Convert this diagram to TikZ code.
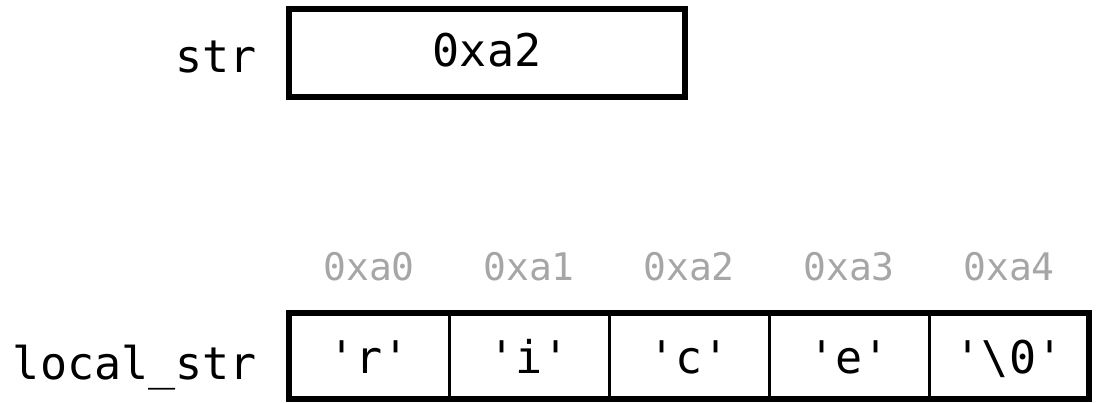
\documentclass[tikz,border=0pt]{standalone}
\usepackage{fontspec}
\setmonofont{DejaVu Sans Mono}
\usepackage{xcolor}
\usepackage{tikz}
\usetikzlibrary{positioning}
\definecolor{addrgray}{RGB}{166,166,166}

\begin{document}
\begin{tikzpicture}[x=1pt, y=1pt,
                        cell/.style={draw, line width=3pt, outer sep=0pt, minimum width=160pt, minimum height=86pt, inner sep=0pt, text height=34pt, text depth=0pt, font=\fontsize{45}{50}\ttfamily},
                        box/.style={draw, line width=6pt, outer sep=0pt, minimum width=396pt, minimum height=88pt, inner sep=0pt, text height=27pt, text depth=0pt, font=\fontsize{45}{50}\ttfamily},
                        varname/.style={anchor=base east, inner sep=0pt, font=\fontsize{45}{50}\ttfamily},
                        addr/.style={anchor=base, inner sep=0pt, text=addrgray, font=\fontsize{38}{44}\ttfamily}]
                        \useasboundingbox (0, 0) rectangle (1099, 402);
                        % pointer variable
                        \node[box] (ptr) at (487, 349) {0xa2};
                        \node[varname] (ptrname) at (257, 329) {str};
                        % array cells
                        \node[cell] (c0) at (369, 46) {\char"27 r\char"27};
                        \node[cell] (c1) at (529, 46) {\char"27 i\char"27};
                        \node[cell] (c2) at (689, 46) {\char"27 c\char"27};
                        \node[cell] (c3) at (849, 46) {\char"27 e\char"27};
                        \node[cell] (c4) at (1009, 46) {\char"27\textbackslash 0\char"27};
                        \draw [line width=6pt] (c0.north west) rectangle (c4.south east);
                        \node[varname] (arrname) at (257, 23) {local\_str};
                        % addresses
                        \node[addr] (a0) at (369, 122) {0xa0};
                        \node[addr] (a1) at (529, 122) {0xa1};
                        \node[addr] (a2) at (689, 122) {0xa2};
                        \node[addr] (a3) at (849, 122) {0xa3};
                        \node[addr] (a4) at (1009, 122) {0xa4};
                        \end{tikzpicture}
\end{document}
